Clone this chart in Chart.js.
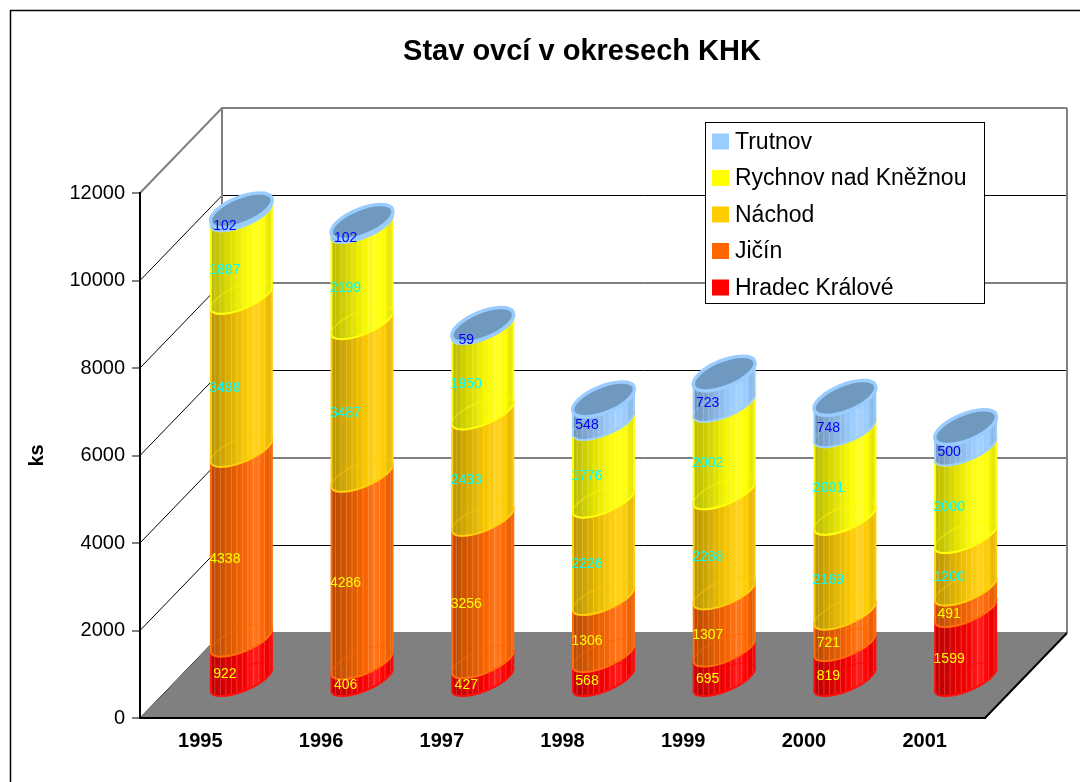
<!DOCTYPE html>
<html>
<head>
<meta charset="utf-8">
<title>Stav ovcí v okresech KHK</title>
<script src="https://cdn.jsdelivr.net/npm/chart.js@4"></script>
<style>
  html, body { margin: 0; padding: 0; background: #fff; }
</style>
</head>
<body>
<canvas id="sheepChart" width="1080" height="782"></canvas>
<script>
const years = ["1995", "1996", "1997", "1998", "1999", "2000", "2001"]
const hradec = [922, 406, 427, 568, 695, 819, 1599]
const jicin = [4338, 4286, 3256, 1306, 1307, 721, 491]
const nachod = [3498, 3487, 2433, 2226, 2288, 2169, 1200]
const rychnov = [1887, 2199, 1950, 1776, 2002, 2001, 2000]
const trutnov = [102, 102, 59, 548, 723, 748, 500]
const seriesNames = ["Hradec Králové", "Jičín", "Náchod", "Rychnov nad Kněžnou", "Trutnov"]
const yTicks = [0, 2000, 4000, 6000, 8000, 10000, 12000]

const FONT = "'Liberation Sans', Arial, sans-serif"
const seriesColors = ["#FF0000", "#FF6600", "#FFCC00", "#FFFF00", "#99CCFF"]
const labelColors = ["#FFFF00", "#FFFF00", "#00FFFF", "#00FFFF", "#0000FF"]
const DEPTH = { x: 82, y: -85 }       // back wall offset
const SHIFT = { x: 41, y: -37.5 }     // bars stand in the middle of the floor
const TILT = -0.39                    // tilt of the elliptical cuts
const RY = 11.6

function tone(hex, f) {
  const n = parseInt(hex.slice(1), 16)
  let c = [n >> 16, (n >> 8) & 255, n & 255]
  c = c.map(v => f <= 1 ? v * f : v + (255 - v) * (f - 1))
  return `rgb(${c.map(Math.round).join(",")})`
}

function segmentPath(ctx, cx, yTop, yBase, a) {
  const rx = a / Math.cos(TILT)
  const ey = rx * Math.sin(TILT)
  ctx.beginPath()
  ctx.moveTo(cx - a, yTop - ey)
  ctx.lineTo(cx - a, yBase - ey)
  ctx.ellipse(cx, yBase, rx, RY, TILT, Math.PI, 0, true)
  ctx.lineTo(cx + a, yTop + ey)
  ctx.ellipse(cx, yTop, rx, RY, TILT, 0, Math.PI, false)
  ctx.closePath()
}

const scenePlugin = {
  id: "scene",
  beforeDraw(chart) {
    const { ctx, chartArea: { left, right, bottom }, scales: { y } } = chart
    ctx.save()
    ctx.fillStyle = "#fff"
    ctx.fillRect(0, 0, chart.width, chart.height)
    ctx.strokeStyle = "#000"
    ctx.lineWidth = 1.5
    ctx.strokeRect(10.5, 10.5, chart.width + 20, chart.height + 20)

    // gridlines on side and back wall
    yTicks.forEach(v => {
      const py = y.getPixelForValue(v)
      const top = v === yTicks[yTicks.length - 1]
      ctx.strokeStyle = top ? "#808080" : "#000"
      ctx.lineWidth = top ? 2 : 1
      ctx.beginPath()
      ctx.moveTo(left, py)
      ctx.lineTo(left + DEPTH.x, py + DEPTH.y)
      ctx.lineTo(right + DEPTH.x, py + DEPTH.y)
      ctx.stroke()
    })
    const yTop = y.getPixelForValue(yTicks[yTicks.length - 1]) + DEPTH.y
    ctx.strokeStyle = "#808080"
    ctx.lineWidth = 2
    ctx.beginPath()
    ctx.moveTo(left + DEPTH.x, yTop)
    ctx.lineTo(left + DEPTH.x, bottom + DEPTH.y)
    ctx.moveTo(right + DEPTH.x, yTop)
    ctx.lineTo(right + DEPTH.x, bottom + DEPTH.y)
    ctx.stroke()

    // floor
    ctx.fillStyle = "#808080"
    ctx.beginPath()
    ctx.moveTo(left, bottom)
    ctx.lineTo(right, bottom)
    ctx.lineTo(right + DEPTH.x, bottom + DEPTH.y)
    ctx.lineTo(left + DEPTH.x, bottom + DEPTH.y)
    ctx.closePath()
    ctx.fill()
    ctx.strokeStyle = "#000"
    ctx.lineWidth = 2
    ctx.beginPath()
    ctx.moveTo(right, bottom)
    ctx.lineTo(right + DEPTH.x, bottom + DEPTH.y)
    ctx.stroke()
    ctx.restore()
  },
  afterDraw(chart) {
    const { ctx } = chart
    ctx.save()
    // title
    ctx.fillStyle = "#000"
    ctx.font = `bold 29px ${FONT}`
    ctx.textAlign = "center"
    ctx.textBaseline = "middle"
    ctx.fillText("Stav ovcí v okresech KHK", 582, 52)

    // legend, top series first
    const box = { x: 705.5, y: 122.5, w: 279, h: 181 }
    ctx.fillStyle = "#fff"
    ctx.fillRect(box.x, box.y, box.w, box.h)
    ctx.strokeStyle = "#000"
    ctx.lineWidth = 1
    ctx.strokeRect(box.x, box.y, box.w, box.h)
    ctx.font = `23px ${FONT}`
    ctx.textAlign = "left"
    const sets = chart.data.datasets.slice().reverse()
    sets.forEach((ds, k) => {
      const cy = box.y + 19 + k * 36.5
      ctx.fillStyle = ds.backgroundColor
      ctx.fillRect(712, cy - 8, 17, 16)
      ctx.fillStyle = "#000"
      ctx.fillText(ds.label, 735, cy + 1)
    })
    ctx.restore()
  }
}

const cylinderPlugin = {
  id: "cylinders",
  beforeDatasetsDraw(chart) {
    const { ctx } = chart
    const metas = chart.data.datasets.map((d, i) => chart.getDatasetMeta(i))
    ctx.save()
    years.forEach((yr, j) => {
      let top = null
      metas.forEach((meta, i) => {
        const el = meta.data[j]
        const color = seriesColors[i]
        const cx = el.x + SHIFT.x
        const a = el.width / 2
        const yTop = el.y + SHIFT.y
        const yBase = el.base + SHIFT.y
        const g = ctx.createLinearGradient(cx - a, 0, cx + a, 0)
        g.addColorStop(0, tone(color, 0.72))
        g.addColorStop(0.3, tone(color, 0.86))
        g.addColorStop(0.55, tone(color, 0.97))
        g.addColorStop(0.72, tone(color, 1.12))
        g.addColorStop(0.86, color)
        g.addColorStop(1, tone(color, 0.85))
        segmentPath(ctx, cx, yTop, yBase, a)
        ctx.fillStyle = g
        ctx.fill()
        // fine vertical stripes
        ctx.save()
        ctx.clip()
        ctx.strokeStyle = "rgba(255,255,255,0.22)"
        ctx.lineWidth = 1
        for (let s = 4; s < 2 * a; s += 5.5) {
          ctx.beginPath()
          ctx.moveTo(cx - a + s, yTop - 30)
          ctx.lineTo(cx - a + s, yBase + 30)
          ctx.stroke()
        }
        ctx.restore()
        // back half of the lower cut, faint
        const rx = a / Math.cos(TILT)
        ctx.strokeStyle = color
        ctx.globalAlpha = 0.45
        ctx.lineWidth = 1.5
        ctx.beginPath()
        ctx.ellipse(cx, yBase, rx, RY, TILT, Math.PI, 2 * Math.PI, false)
        ctx.stroke()
        ctx.globalAlpha = 1
        // outline
        segmentPath(ctx, cx, yTop, yBase, a)
        ctx.lineWidth = 2
        ctx.strokeStyle = tone(color, 1.05)
        ctx.stroke()
        top = { cx, y: yTop, rx }
      })
      // cap
      ctx.beginPath()
      ctx.ellipse(top.cx, top.y, top.rx, RY + 1.5, TILT, 0, 2 * Math.PI)
      ctx.fillStyle = "#7099BF"
      ctx.fill()
      ctx.lineWidth = 3.5
      ctx.strokeStyle = "#99CCFF"
      ctx.stroke()
    })

    // value labels
    ctx.font = `14px ${FONT}`
    ctx.textAlign = "center"
    ctx.textBaseline = "middle"
    metas.forEach((meta, i) => {
      ctx.fillStyle = labelColors[i]
      meta.data.forEach((el, j) => {
        const mid = (el.y + el.base) / 2 + SHIFT.y
        ctx.fillText(String(chart.data.datasets[i].data[j]), el.x + SHIFT.x - 16.5, mid + 14)
      })
    })
    ctx.restore()
    return false
  }
}

function createSheepChart() {
  const values = [hradec, jicin, nachod, rychnov, trutnov]
  const data = {
    labels: years,
    datasets: values.map((vals, i) => ({
      label: seriesNames[i],
      data: vals,
      backgroundColor: seriesColors[i],
      barThickness: 61,
    })),
  }

  const config = {
    type: "bar",
    data: data,
    options: {
      responsive: false,
      animation: false,
      events: [],
      layout: { padding: { left: 12, right: 95, top: 193, bottom: 10 } },
      plugins: {
        legend: { display: false },
        title: { display: false },
        tooltip: { enabled: false },
      },
      scales: {
        x: {
          stacked: true,
          grid: { display: false, drawTicks: false },
          border: { color: "#000", width: 2 },
          ticks: { color: "#000", padding: 11, font: { family: FONT, size: 20, weight: "bold" } },
          afterFit: (s) => { s.height = 54 },
        },
        y: {
          stacked: true,
          min: yTicks[0],
          max: yTicks[yTicks.length - 1],
          ticks: {
            stepSize: 2000,
            color: "#000",
            padding: 7,
            font: { family: FONT, size: 20 },
            callback: (v) => String(v),
          },
          grid: { drawOnChartArea: false, tickLength: 8, color: "#808080", lineWidth: 2 },
          border: { color: "#000", width: 2 },
          title: {
            display: true,
            text: "ks",
            color: "#000",
            padding: { top: 13, bottom: 0 },
            font: { family: FONT, size: 20, weight: "bold" },
          },
          afterFit: (s) => { s.width = 128 },
        },
      },
    },
    plugins: [scenePlugin, cylinderPlugin],
  }

  const ctx = document.getElementById("sheepChart")
  new Chart(ctx, config)
}

document.addEventListener("DOMContentLoaded", () => {
  createSheepChart()
})
</script>
</body>
</html>
